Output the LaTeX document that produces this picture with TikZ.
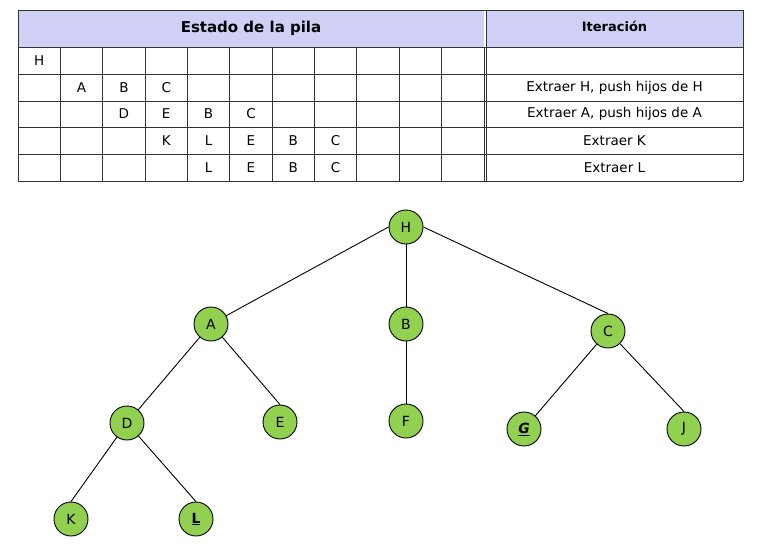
\documentclass[tikz,border=0pt]{standalone}
\usepackage{fontspec}
\setmainfont{DejaVu Sans}
\usepackage{tikz}
\usetikzlibrary{positioning}
\usepackage{xcolor}
\definecolor{nodegreen}{RGB}{146,208,80}
\definecolor{headlav}{RGB}{208,208,246}
\definecolor{gridgray}{RGB}{50,50,50}

\tikzset{
  treenode/.style={circle, draw=black, fill=nodegreen, line width=0.9pt,
                   minimum size=34pt, inner sep=0pt, font=\fontsize{14}{16}\selectfont},
  treeedge/.style={draw=black, line width=0.9pt},
  cell/.style={font=\fontsize{13.5}{15}\selectfont, inner sep=0pt}
}

\begin{document}
\begin{tikzpicture}[x=1pt, y=-1pt]
    \useasboundingbox (0,0) rectangle (759,549);

    % tabla: cabecera
    \fill[headlav] (18,10) rectangle (484,47);
    \fill[headlav] (486,10) rectangle (743,47);
    \node[font=\fontsize{15}{17}\selectfont\bfseries] (estado) at (251,28)
      {Estado de la pila};
    \node[font=\fontsize{13}{15}\selectfont\bfseries] (iter) at (614.5,26)
      {Iteración};

    % tabla: rejilla
    \foreach \y in {10,47,74,101,127,154,181}
      \draw[gridgray, line width=0.9pt] (18,\y) -- (743,\y);
    \foreach \i in {1,...,10}
      \draw[gridgray, line width=0.9pt] (18+42.36*\i,47) -- (18+42.36*\i,181);
    \draw[gridgray, line width=0.9pt] (18,10) -- (18,181);
    \draw[gridgray, line width=0.9pt] (484,47) -- (484,181);
    \draw[gridgray, line width=0.9pt] (486.5,10) -- (486.5,181);
    \draw[gridgray, line width=0.9pt] (743,10) -- (743,181);

    % tabla: contenido de la pila
    \foreach \c/\txt in {1/H}
      \node[cell] at (18+42.36*\c-21.18,60.5) {\txt};
    \foreach \c/\txt in {2/A,3/B,4/C}
      \node[cell] at (18+42.36*\c-21.18,87.5) {\txt};
    \foreach \c/\txt in {3/D,4/E,5/B,6/C}
      \node[cell] at (18+42.36*\c-21.18,114) {\txt};
    \foreach \c/\txt in {4/K,5/L,6/E,7/B,8/C}
      \node[cell] at (18+42.36*\c-21.18,140.5) {\txt};
    \foreach \c/\txt in {5/L,6/E,7/B,8/C}
      \node[cell] at (18+42.36*\c-21.18,167.5) {\txt};

    % tabla: iteraciones
    \node[cell] (it2) at (614.5,87.5) {Extraer H, push hijos de H};
    \node[cell] (it3) at (614.5,114) {Extraer A, push hijos de A};
    \node[cell] (it4) at (614.5,140.5) {Extraer K};
    \node[cell] (it5) at (614.5,167.5) {Extraer L};

    % arbol
    \node[treenode] (H) at (406,227) {H};
    \node[treenode] (A) at (211,324) {A};
    \node[treenode] (B) at (406,324) {B};
    \node[treenode] (C) at (608,331) {C};
    \node[treenode] (D) at (127,423) {D};
    \node[treenode] (E) at (280,422) {E};
    \node[treenode] (F) at (406,421) {F};
    \node[treenode] (G) at (524,429) {\underline{\textbf{\textit{G}}}};
    \node[treenode] (J) at (684,429) {J};
    \node[treenode] (K) at (71,519) {K};
    \node[treenode] (L) at (196,519) {\underline{\textbf{L}}};

    \draw[treeedge] (H.west) -- (A);
    \draw[treeedge] (H) -- (B);
    \draw[treeedge] (H.east) -- (C.north);
    \draw[treeedge] (A) -- (D);
    \draw[treeedge] (A) -- (E.north);
    \draw[treeedge] (B) -- (F);
    \draw[treeedge] (C) -- (G);
    \draw[treeedge] (C) -- (J.north);
    \draw[treeedge] (D) -- (K.north);
    \draw[treeedge] (D) -- (L.north);
  \end{tikzpicture}
\end{document}
